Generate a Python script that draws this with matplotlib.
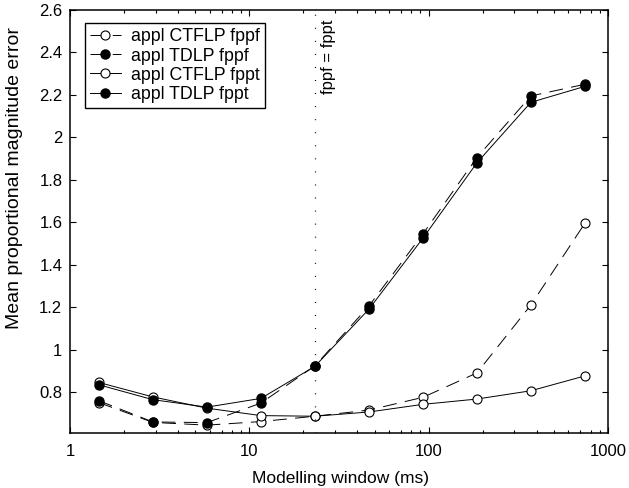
import numpy as np
import matplotlib
matplotlib.use('Agg')
import matplotlib.pyplot as plt
from matplotlib.ticker import FixedLocator, FuncFormatter, LogLocator, NullFormatter

plt.rcParams['font.family'] = ['Liberation Sans', 'DejaVu Sans']
plt.rcParams['lines.scale_dashes'] = False

# modelling window lengths (ms), 32..16384 samples at 22.05 kHz
win = [1.45, 2.9, 5.8, 11.6, 23.2, 46.4, 92.9, 185.8, 371.5, 743]

ctflp_fppf = [0.750, 0.657, 0.644, 0.661, 0.686, 0.715, 0.775, 0.890, 1.21, 1.595]
tdlp_fppf = [0.759, 0.659, 0.656, 0.748, 0.923, 1.205, 1.545, 1.905, 2.195, 2.25]
ctflp_fppt = [0.845, 0.777, 0.724, 0.689, 0.686, 0.706, 0.742, 0.767, 0.806, 0.876]
tdlp_fppt = [0.834, 0.764, 0.729, 0.770, 0.921, 1.19, 1.525, 1.88, 2.165, 2.24]

split = 23.2
ytick_vals = [0.8, 1.0, 1.2, 1.4, 1.6, 1.8, 2.0, 2.2, 2.4, 2.6]

fig = plt.figure(figsize=(6.29, 4.88), dpi=100)
ax = fig.add_axes([0.1113, 0.1127, 0.8553, 0.8668])

dash = (0, (10, 6))
ms = 6.5
lw = 0.7
ax.plot(win, ctflp_fppf, color='k', lw=lw, ls=dash, marker='o', ms=ms,
        mfc='white', mec='k', mew=0.8, label='appl CTFLP fppf')
ax.plot(win, tdlp_fppf, color='k', lw=lw, ls=dash, marker='o', ms=ms,
        mfc='k', mec='k', label='appl TDLP fppf')
ax.plot(win, ctflp_fppt, color='k', lw=lw, ls='-', marker='o', ms=ms,
        mfc='white', mec='k', mew=0.8, label='appl CTFLP fppt')
ax.plot(win, tdlp_fppt, color='k', lw=lw, ls='-', marker='o', ms=ms,
        mfc='k', mec='k', label='appl TDLP fppt')

ax.axvline(split, color='k', lw=0.9, ls=(0, (0.7, 8.7)))
ax.text(27.5, 2.555, 'fppf = fppt', rotation=90, ha='center', va='top', fontsize=12)

ax.set_xscale('log')
ax.set_xlim(1, 1000)
ax.set_ylim(0.607, 2.6)
ax.xaxis.set_major_locator(FixedLocator([1, 10, 100, 1000]))
ax.xaxis.set_major_formatter(FuncFormatter(lambda v, p: '%g' % v))
ax.xaxis.set_minor_locator(LogLocator(base=10, subs=np.arange(2, 10)))
ax.xaxis.set_minor_formatter(NullFormatter())
ax.yaxis.set_major_locator(FixedLocator(ytick_vals))
ax.yaxis.set_major_formatter(FuncFormatter(lambda v, p: '%g' % round(v, 1)))

ax.tick_params(which='both', direction='in', top=True, right=True, labelsize=12,
               width=0.8)
ax.tick_params(axis='x', pad=8)
ax.tick_params(axis='y', pad=5.5)
ax.tick_params(which='major', length=4.5)
ax.tick_params(which='minor', length=2.5)
for s in ax.spines.values():
    s.set_linewidth(1.1)

fig.text(341 / 629, 1 - 479 / 488, 'Modelling window (ms)', ha='center', va='center',
         fontsize=12.5)
fig.text(15 / 629, 1 - 178 / 488, 'Mean proportional magnitude error', ha='center',
         va='center', rotation=90, fontsize=14)

leg = ax.legend(loc='upper left', bbox_to_anchor=(0.0279, 0.969), fontsize=12.8,
                handlelength=1.7, handletextpad=0.6, borderpad=0.3,
                labelspacing=0.12, fancybox=False, framealpha=1, borderaxespad=0)
leg.get_frame().set_edgecolor('k')
leg.get_frame().set_linewidth(1.0)

fig.savefig('out.png', dpi=100)
